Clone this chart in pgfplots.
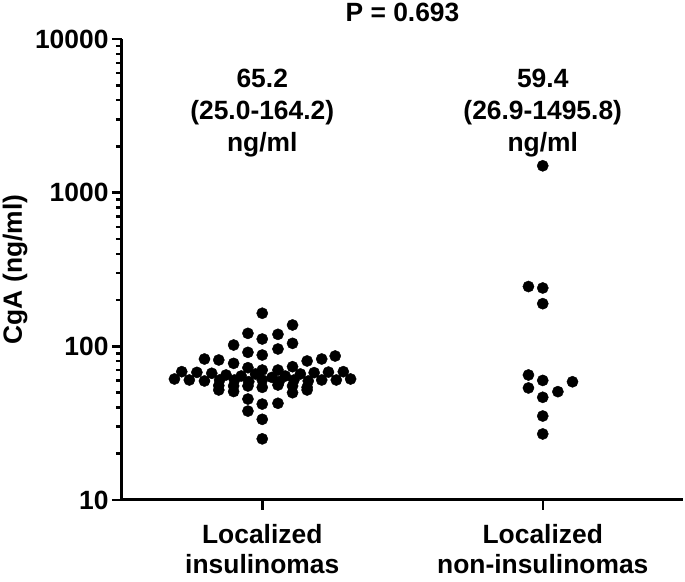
\documentclass[border=0pt]{standalone}
\usepackage{fontspec}
\setmainfont{Liberation Sans}
\usepackage{pgfplots}
\pgfplotsset{compat=1.18}
\newcommand{\lbl}{\fontsize{26.5}{32}\selectfont\bfseries}
\newcommand{\xlbl}{\fontsize{26.5}{30.5}\selectfont\bfseries}
\begin{document}
\begin{tikzpicture}
\useasboundingbox (-122bp,-82bp) rectangle (563bp,500bp);
\begin{axis}[
  at={(0,0)}, anchor=south west,
  scale only axis, width=561bp, height=461bp,
  ymode=log, ymin=10, ymax=10000,
  xmin=-0.5, xmax=1.5,
  axis x line*=bottom, axis y line*=left,
  axis line style={line width=3bp},
  xtick={0,1},
  xticklabels={{Localized\\insulinomas},{Localized\\non-insulinomas}},
  xticklabel style={align=center, font=\xlbl, yshift=-13bp, inner sep=1bp},
  ytick={10,100,1000,10000}, yticklabels={10,100,1000,10000},
  yticklabel style={font=\lbl},
  tick align=outside,
  major tick length=10bp, minor tick length=6bp,
  every tick/.style={line width=2.5bp, black},
  ylabel={CgA (ng/ml)},
  ylabel style={font=\lbl, at={(rel axis cs:-0.1907,0.5)}, anchor=center},
  clip=false,
]
\addplot[only marks, mark=*, mark size=5.6bp, black] coordinates {
(0,164.2) (0.108,137.7) (-0.051,121.5) (0.056,119.7) (0,111.6) (0.108,104.6) (-0.102,102.0) (0.056,96.1) (-0.051,91.4) (0,87.8) (0.260,86.5) (-0.206,82.7) (-0.155,81.5) (0.212,82.7) (0.160,80.3) (-0.102,77.5) (0.108,73.7) (-0.051,72.6) (0,70.1) (0.056,70.1)
(-0.287,68.4) (-0.233,67.7) (-0.180,66.8) (-0.129,65.1) (-0.075,64.1) (-0.024,66.1) (0.035,62.8) (0.082,64.1) (0.136,66.1) (0.185,67.4) (0.236,68.0) (0.289,68.4)
(-0.313,61.3) (-0.260,60.4) (-0.206,59.5) (-0.152,60.4) (-0.099,60.4) (-0.048,58.9) (0,60.4) (0.060,58.9) (0.113,60.4) (0.164,59.5) (0.212,60.4) (0.264,60.4) (0.315,61.3)
(-0.155,55.5) (-0.102,55.2) (-0.051,55.2) (0,54.1) (0.056,56.0) (0.108,55.2) (0.160,54.1) (-0.155,52.0) (-0.102,50.8) (0.108,49.9) (0.160,52.0) (-0.051,45.4) (0,42.1) (0.056,42.6) (-0.051,37.9) (0,33.5) (0,25.0)
};
\addplot[only marks, mark=*, mark size=5.6bp, black] coordinates {
(1,1495.8) (0.949,245) (1,239.7) (1,189.5) (0.949,65.1) (1,60.0) (1.106,58.8) (0.949,53.6) (1.054,50.7) (1,46.6) (1,35.2) (1,26.9)
};
\node[font=\lbl, align=center] at (axis cs:0,3296) {65.2\\(25.0-164.2)\\ng/ml};
\node[font=\lbl, align=center] at (axis cs:1,3296) {59.4\\(26.9-1495.8)\\ng/ml};
\node[font=\lbl] at ([yshift=27bp]rel axis cs:0.5,1) {P = 0.693};
\end{axis}
\end{tikzpicture}
\end{document}
